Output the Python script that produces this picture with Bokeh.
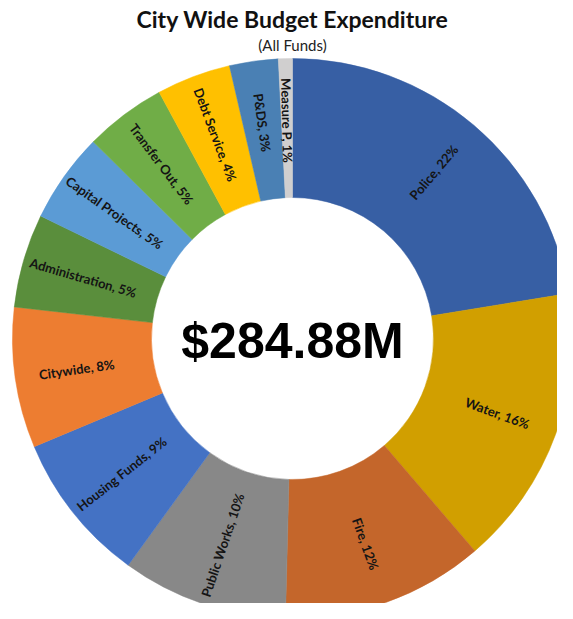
import math
from bokeh.plotting import figure
from bokeh.models import Range1d, ColumnDataSource
from bokeh.core.properties import value
from bokeh.embed import file_html
from bokeh.resources import INLINE

# ---- data ----
categories = ["Police", "Water", "Fire", "Public Works", "Housing Funds", "Citywide",
              "Administration", "Capital Projects", "Transfer Out", "Debt Service",
              "P&DS", "Measure P"]
amounts_musd = [63.88, 46.4, 33.3, 27.3, 24.8, 23.1, 15.4, 14.8, 13.4, 12.2, 8.0, 2.3]
colors = ["#375FA4", "#D19F00", "#C4662B", "#888888", "#4472C4", "#ED7D31",
          "#5A8E3C", "#5B9BD5", "#70AD47", "#FFC000", "#4A80B4", "#D0CFCF"]
title_text = "City Wide Budget Expenditure"
subtitle_text = "(All Funds)"

# ---- layout constants (screen pixels; data y = 619 - screen y) ----
W, H = 557, 603
CX, CY = 292, 619 - 338
R_OUT, R_IN = 280, 141
R_LABEL = 218

total = sum(amounts_musd)
starts, ends, lx, ly, la, labels = [], [], [], [], [], []
cum = 0.0
for cat, a in zip(categories, amounts_musd):
    f0 = cum / total
    cum += a
    f1 = cum / total
    s = math.pi / 2 - 2 * math.pi * f0
    e = math.pi / 2 - 2 * math.pi * f1
    starts.append(s)
    ends.append(e)
    mid = (s + e) / 2
    lx.append(CX + R_LABEL * math.cos(mid))
    ly.append(CY + R_LABEL * math.sin(mid))
    ang = mid
    while ang > math.pi / 2:
        ang -= math.pi
    while ang <= -math.pi / 2:
        ang += math.pi
    la.append(ang)
    labels.append(f"{cat}, {round(a / total * 100)}%")

src = ColumnDataSource(dict(start=starts, end=ends, color=colors))
lsrc = ColumnDataSource(dict(x=lx, y=ly, angle=la, text=labels))

p = figure(width=W, height=H, x_range=Range1d(0, W), y_range=Range1d(619 - H, 619),
           output_backend="svg", toolbar_location=None, min_border=0)
p.axis.visible = False
p.grid.visible = False
p.outline_line_color = None
p.background_fill_color = "white"

p.annular_wedge(x=CX, y=CY, inner_radius=R_IN, outer_radius=R_OUT,
                start_angle="start", end_angle="end", direction="clock",
                fill_color="color", line_color="color", line_width=0.5, source=src)

p.text(x="x", y="y", text="text", angle="angle", source=lsrc,
       text_font=value("Lato"), text_font_style="bold", text_font_size="13px",
       text_color="#141414", text_align="center", text_baseline="middle")

p.text(x=[CX], y=[619 - 18], text=[title_text], text_font=value("Lato"),
       text_font_style="bold", text_font_size="23px", text_color="#111111",
       text_align="center", text_baseline="middle")
p.text(x=[CX], y=[619 - 44], text=[subtitle_text], text_font=value("Lato"),
       text_font_size="15px", text_color="#222222",
       text_align="center", text_baseline="middle")
p.text(x=[CX], y=[619 - 340], text=[f"${total:.2f}M"], text_font=value("Liberation Sans"),
       text_font_style="bold", text_font_size="50px", text_color="#000000",
       text_align="center", text_baseline="middle")

open("out.html", "w").write(file_html(p, INLINE))
